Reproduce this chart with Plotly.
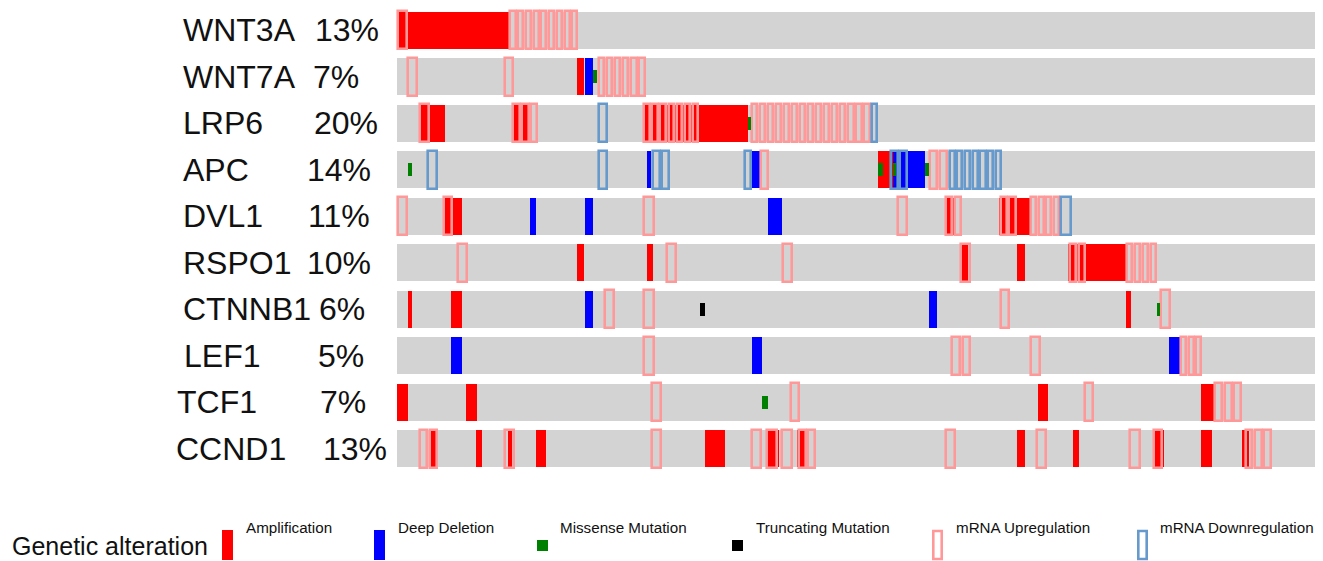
import plotly.graph_objects as go

# ---------------- data ----------------
genes = ["WNT3A", "WNT7A", "LRP6", "APC", "DVL1", "RSPO1", "CTNNB1", "LEF1", "TCF1", "CCND1"]
percents = ["13%", "7%", "20%", "14%", "11%", "10%", "6%", "5%", "7%", "13%"]
n_samples = 119

# (start sample, width in samples)
amplification = {
    "WNT3A": [(0, 14.5)],
    "WNT7A": [(23.3, 0.95)],
    "LRP6": [(2.85, 3.4), (14.9, 2.3), (31.8, 13.6)],
    "APC": [(62.25, 2.07)],
    "DVL1": [(5.9, 2.5), (70.9, 1.12), (77.9, 4.1)],
    "RSPO1": [(23.3, 0.95), (32.35, 0.7), (72.9, 1.0), (80.2, 1.0), (86.85, 7.4)],
    "CTNNB1": [(1.42, 0.55), (7.0, 1.4), (94.25, 0.7)],
    "TCF1": [(0, 1.42), (8.9, 1.4), (82.95, 1.2), (103.95, 1.72)],
    "CCND1": [(4.1, 1.2), (10.25, 0.73), (14.3, 0.6), (17.95, 1.38), (39.9, 2.5), (47.75, 1.6),
              (51.8, 1.23), (80.2, 1.0), (87.4, 0.8), (97.75, 1.4), (103.95, 1.42), (109.35, 0.9)],
}
deep_deletion = {
    "WNT7A": [(24.3, 1.05)],
    "APC": [(32.3, 0.55), (45.95, 1.3), (64.2, 4.1)],
    "DVL1": [(17.25, 0.7), (24.3, 1.05), (48.0, 1.85)],
    "CTNNB1": [(24.3, 1.05), (68.8, 1.1)],
    "LEF1": [(7.0, 1.4), (45.9, 1.35), (99.9, 1.4)],
}
missense = {
    "WNT7A": [(25.35, 0.5)],
    "LRP6": [(45.4, 0.4)],
    "APC": [(1.42, 0.55), (62.25, 0.65), (64.2, 0.35), (68.3, 0.45)],
    "CTNNB1": [(98.35, 0.35)],
    "TCF1": [(47.25, 0.73)],
}
truncating = {
    "CTNNB1": [(39.15, 0.73)],
}
# (start sample, width of each box, number of consecutive boxes)
mrna_up = {
    "WNT3A": [(0, 1.5, 1), (14.5, 1.0, 9)],
    "WNT7A": [(1.2, 1.6, 1), (13.8, 1.4, 1), (25.9, 1.05, 6)],
    "LRP6": [(2.85, 1.5, 1), (14.9, 1.14, 3), (31.8, 1.05, 7), (45.7, 1.04, 15)],
    "APC": [(46.9, 1.3, 1), (68.75, 1.3, 2)],
    "DVL1": [(0, 1.5, 1), (5.85, 1.4, 1), (31.75, 1.6, 1), (64.65, 1.5, 1), (70.9, 1.12, 2),
             (77.9, 1.15, 2), (81.9, 0.97, 4)],
    "RSPO1": [(7.75, 1.5, 1), (34.75, 1.5, 1), (49.7, 1.5, 1), (72.8, 1.5, 1), (86.85, 1.15, 2),
              (94.25, 1.02, 4)],
    "CTNNB1": [(26.8, 1.4, 1), (31.75, 1.6, 1), (77.9, 1.4, 1), (98.7, 1.5, 1)],
    "LEF1": [(31.75, 1.6, 1), (71.65, 1.34, 2), (81.8, 1.5, 1), (101.3, 0.96, 3)],
    "TCF1": [(32.8, 1.46, 1), (50.8, 1.4, 1), (88.8, 1.42, 1), (105.7, 1.22, 3)],
    "CCND1": [(2.85, 1.23, 2), (13.8, 1.5, 1), (32.8, 1.46, 1), (45.7, 1.55, 1), (47.75, 1.6, 1),
              (49.6, 1.6, 1), (51.8, 1.23, 2), (70.9, 1.4, 1), (82.65, 1.5, 1), (94.7, 1.55, 1),
              (97.75, 1.4, 1), (109.6, 1.22, 3)],
}
mrna_down = {
    "LRP6": [(25.9, 1.4, 1), (61.3, 0.95, 1)],
    "APC": [(3.9, 1.4, 1), (25.9, 1.4, 1), (32.9, 1.23, 2), (44.85, 1.1, 1), (63.7, 1.23, 2),
            (71.3, 1.0, 7)],
    "DVL1": [(85.75, 1.6, 1)],
}

legend_names = ["Amplification", "Deep Deletion", "Missense Mutation", "Truncating Mutation",
                "mRNA Upregulation", "mRNA Downregulation"]

# ---------------- styles / geometry ----------------
OFF = 8                      # page body margin: the figure starts 8px in
W, H = 1323 - OFF, 561 - OFF
REF_X0, REF_X1 = 397, 1317   # sample axis extent (page pixels)
ML = REF_X0 - OFF - 2
MR = 1323 - REF_X1
MT, MB = 0, 81
PW = W - ML - MR
PH = H - MT - MB
UNIT = (REF_X1 - REF_X0) / n_samples
ROW_PX = 46.5
ROW0_CENTER = 30.25 - OFF    # figure pixel of first row centre

FONT = "Liberation Sans, Arial, sans-serif"
C_GREY = "#d3d3d3"
C_AMP = "#ff0000"
C_DEL = "#0000ff"
C_MIS = "#008000"
C_TRU = "#000000"
C_UP = "#ff9999"
C_DOWN = "#6699cc"

ROW_H = 0.79
BOX_H = 0.815
SMALL_H = 0.29
STROKE = 2.6


def fill_trace(data, color, thick):
    ys, xs, bs = [], [], []
    for g, evs in data.items():
        for s, w in evs:
            ys.append(genes.index(g)); xs.append(w); bs.append(s)
    return go.Bar(orientation="h", y=ys, x=xs, base=bs, width=thick,
                  marker=dict(color=color, line=dict(width=0)),
                  hoverinfo="skip", showlegend=False)


def box_trace(data, color):
    inset = STROKE / 2 / UNIT
    ys, xs, bs = [], [], []
    for g, evs in data.items():
        for s, w, n in evs:
            for k in range(n):
                ys.append(genes.index(g))
                xs.append(w - 2 * inset)
                bs.append(s + k * w + inset)
    return go.Bar(orientation="h", y=ys, x=xs, base=bs, width=BOX_H,
                  marker=dict(color="rgba(0,0,0,0)", line=dict(color=color, width=STROKE)),
                  hoverinfo="skip", showlegend=False)


fig = go.Figure()
fig.add_trace(go.Bar(orientation="h", y=list(range(len(genes))), x=[n_samples] * len(genes),
                     base=[0] * len(genes), width=ROW_H,
                     marker=dict(color=C_GREY, line=dict(width=0)),
                     hoverinfo="skip", showlegend=False))
fig.add_trace(fill_trace(amplification, C_AMP, ROW_H))
fig.add_trace(fill_trace(deep_deletion, C_DEL, ROW_H))
fig.add_trace(box_trace(mrna_up, C_UP))
fig.add_trace(box_trace(mrna_down, C_DOWN))
fig.add_trace(fill_trace(missense, C_MIS, SMALL_H))
fig.add_trace(fill_trace(truncating, C_TRU, SMALL_H))


def xp(px):  # page pixel -> paper x
    return (px - OFF - ML) / PW


def yp(py):  # page pixel -> paper y
    return (H - MB - (py - OFF)) / PH


annotations = []
pct_x = [313, 311, 312, 305, 306, 305, 317, 316, 318, 321]
name_x = [181, 181, 181, 181, 181, 181, 181, 182, 175, 174]
for i, g in enumerate(genes):
    annotations.append(dict(x=xp(name_x[i]), y=i, xref="paper", yref="y", text=g, showarrow=False,
                            xanchor="left", yanchor="middle", font=dict(family=FONT, size=32, color="#111")))
    annotations.append(dict(x=xp(pct_x[i]), y=i, xref="paper", yref="y", text=percents[i], showarrow=False,
                            xanchor="left", yanchor="middle", font=dict(family=FONT, size=32, color="#111")))

annotations.append(dict(x=xp(10), y=yp(546), xref="paper", yref="paper", text="Genetic alteration",
                        showarrow=False, xanchor="left", yanchor="middle",
                        font=dict(family=FONT, size=25, color="#111")))

shapes = []
leg_glyph_x = [222, 374, 537, 732, 932, 1137]
leg_text_x = [244, 396, 558, 754, 954, 1158]
leg_kind = ["full", "full", "small", "small", "outline", "outline"]
leg_color = [C_AMP, C_DEL, C_MIS, C_TRU, C_UP, C_DOWN]
for i, name in enumerate(legend_names):
    gx = leg_glyph_x[i]
    if leg_kind[i] == "full":
        shapes.append(dict(type="rect", xref="paper", yref="paper", x0=xp(gx), x1=xp(gx + 11),
                           y0=yp(560), y1=yp(530), fillcolor=leg_color[i], line=dict(width=0)))
    elif leg_kind[i] == "small":
        shapes.append(dict(type="rect", xref="paper", yref="paper", x0=xp(gx), x1=xp(gx + 11),
                           y0=yp(551), y1=yp(540), fillcolor=leg_color[i], line=dict(width=0)))
    else:
        shapes.append(dict(type="rect", xref="paper", yref="paper", x0=xp(gx + 1.3), x1=xp(gx + 9.7),
                           y0=yp(559), y1=yp(531), fillcolor="rgba(0,0,0,0)",
                           line=dict(color=leg_color[i], width=STROKE)))
    annotations.append(dict(x=xp(leg_text_x[i]), y=yp(527), xref="paper", yref="paper", text=name,
                            showarrow=False, xanchor="left", yanchor="middle",
                            font=dict(family=FONT, size=15.2, color="#111")))

y_top = -ROW0_CENTER / ROW_PX
y_bottom = y_top + PH / ROW_PX

fig.update_layout(
    width=W, height=H,
    margin=dict(l=ML, r=MR, t=MT, b=MB, pad=0),
    paper_bgcolor="white", plot_bgcolor="white",
    barmode="overlay", bargap=0,
    xaxis=dict(range=[-2 / UNIT, n_samples], visible=False, fixedrange=True),
    yaxis=dict(range=[y_bottom, y_top], visible=False, fixedrange=True),
    annotations=annotations,
    shapes=shapes,
    showlegend=False,
)

fig.write_html("out.html")
